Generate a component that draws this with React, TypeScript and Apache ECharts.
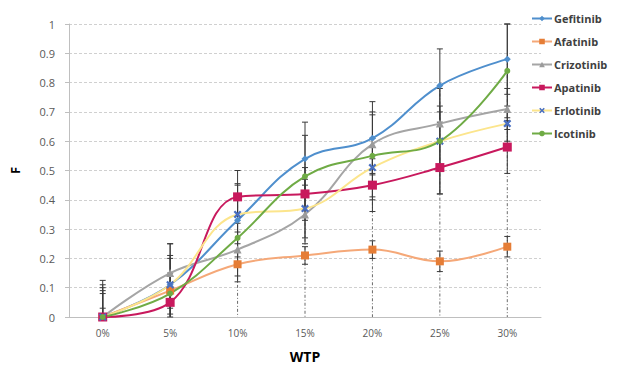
import React, { useEffect, useRef } from "react";
import * as echarts from "echarts";

const categories = ["0%", "5%", "10%", "15%", "20%", "25%", "30%"];
const yTicks = [0, 0.1, 0.2, 0.3, 0.4, 0.5, 0.6, 0.7, 0.8, 0.9, 1];

const gefitinib = [0, 0.11, 0.33, 0.54, 0.61, 0.79, 0.88];
const afatinib = [0, 0.09, 0.18, 0.21, 0.23, 0.19, 0.24];
const crizotinib = [0, 0.15, 0.23, 0.35, 0.59, 0.66, 0.71];
const apatinib = [0, 0.05, 0.41, 0.42, 0.45, 0.51, 0.58];
const erlotinib = [0, 0.11, 0.35, 0.37, 0.51, 0.6, 0.66];
const icotinib = [0, 0.08, 0.27, 0.48, 0.55, 0.6, 0.84];

const gefitinibErr = [0.09, 0.1, 0.125, 0.125, 0.125, 0.125, 0.12];
const afatinibErr = [0.03, 0.06, 0.04, 0.03, 0.03, 0.035, 0.035];
const crizotinibErr = [0.1, 0.1, 0.06, 0.1, 0.1, 0.06, 0.07];
const apatinibErr = [0.08, 0.05, 0.09, 0.09, 0.09, 0.09, 0.09];
const erlotinibErr = [0.11, 0.14, 0.1, 0.1, 0.1, 0.1, 0.06];
const icotinibErr = [0.125, 0.12, 0.15, 0.14, 0.15, 0.18, 0.16];

const X_SYMBOL =
  "path://M0,2L2,0L5,3L8,0L10,2L7,5L10,8L8,10L5,7L2,10L0,8L3,5Z";

const seriesDefs = [
  { name: "Gefitinib", data: gefitinib, err: gefitinibErr, line: "#4f8fcd", marker: "#4f8fcd", symbol: "diamond", size: 7 },
  { name: "Afatinib", data: afatinib, err: afatinibErr, line: "#f5a878", marker: "#e57d36", symbol: "rect", size: 8 },
  { name: "Crizotinib", data: crizotinib, err: crizotinibErr, line: "#a5a5a5", marker: "#9b9b9b", symbol: "triangle", size: 8 },
  { name: "Apatinib", data: apatinib, err: apatinibErr, line: "#c8195d", marker: "#c8195d", symbol: "rect", size: 9 },
  { name: "Erlotinib", data: erlotinib, err: erlotinibErr, line: "#fce58c", marker: "#4a6fc0", symbol: X_SYMBOL, size: 8 },
  { name: "Icotinib", data: icotinib, err: icotinibErr, line: "#6fab45", marker: "#6fab45", symbol: "circle", size: 6 },
];

export default function App() {
  const ref = useRef<HTMLDivElement>(null);
  useEffect(() => {
    if (!ref.current) return;
    const chart = echarts.init(ref.current, null, { renderer: "svg" });

    const errData: number[][] = [];
    seriesDefs.forEach((s) => {
      s.data.forEach((v, i) => {
        errData.push([i, Math.max(0, v - s.err[i]), Math.min(1, v + s.err[i]), v - s.err[i] < 0 ? 1 : 0]);
      });
    });
    const dropData = categories.map((_, i) => [i, Math.max(...seriesDefs.map((s) => s.data[i]))]);

    const lineSeries = seriesDefs.map((s) => ({
      type: "line",
      name: s.name,
      data: s.data,
      smooth: 0.4,
      symbol: s.symbol,
      symbolSize: s.size,
      showAllSymbol: true,
      z: 3,
      lineStyle: { color: s.line, width: 2 },
      itemStyle: { color: s.marker, borderWidth: 0 },
    }));

    chart.setOption({
      animation: false,
      textStyle: { fontFamily: "Open Sans" },
      grid: { left: 67, right: 92, top: 24, bottom: 45, containLabel: false },
      legend: {
        orient: "vertical",
        left: 526,
        top: 8,
        itemGap: 12,
        itemWidth: 20,
        itemHeight: 7,
        data: seriesDefs.map((s) => s.name),
        textStyle: { fontFamily: "Open Sans", fontWeight: "bold", fontSize: 11, color: "#404040", padding: [0, 0, 0, -3] },
      },
      xAxis: {
        type: "category",
        data: categories,
        boundaryGap: true,
        name: "WTP",
        nameLocation: "middle",
        nameGap: 32,
        nameTextStyle: { fontFamily: "Open Sans", fontWeight: "bold", fontSize: 14, color: "#000" },
        axisLine: { lineStyle: { color: "#bfbfbf" } },
        axisTick: { show: false },
        axisLabel: { color: "#595959", fontSize: 10, margin: 11 },
        splitLine: { show: false },
      },
      yAxis: {
        type: "value",
        min: 0,
        max: 1,
        interval: 0.1,
        name: "F",
        nameLocation: "middle",
        nameGap: 48,
        nameRotate: 90,
        nameTextStyle: { fontFamily: "Open Sans", fontWeight: "bold", fontSize: 13, color: "#000" },
        axisLine: { show: true, lineStyle: { color: "#bfbfbf" } },
        axisTick: { show: true, length: 4, lineStyle: { color: "#bfbfbf" } },
        axisLabel: {
          color: "#595959",
          fontSize: 11,
          margin: 14,
          formatter: (v: number) => {
            const t = yTicks.find((y) => Math.abs(y - v) < 1e-6);
            return t === undefined ? "" : String(t);
          },
        },
        splitLine: { show: true, lineStyle: { color: "#d0d0d0", type: [3, 2] } },
      },
      series: [
        {
          type: "custom",
          name: "drop",
          z: 1,
          silent: true,
          data: dropData,
          encode: { x: 0, y: 1 },
          renderItem: (params: any, api: any) => {
            const i = api.value(0);
            const top = api.coord([i, api.value(1)]);
            const bot = api.coord([i, 0]);
            return {
              type: "line",
              shape: { x1: top[0], y1: top[1], x2: bot[0], y2: bot[1] },
              style: { stroke: "#6a6a6a", lineWidth: 1, lineDash: [3, 2, 1, 2] },
            };
          },
        },
        {
          type: "custom",
          name: "err",
          z: 2,
          silent: true,
          data: errData,
          encode: { x: 0, y: [1, 2] },
          renderItem: (params: any, api: any) => {
            const i = api.value(0);
            const lo = api.coord([i, api.value(1)]);
            const hi = api.coord([i, api.value(2)]);
            const clipped = api.value(3) === 1;
            const w = 3;
            const children: any[] = [
              { type: "line", shape: { x1: hi[0], y1: hi[1], x2: lo[0], y2: lo[1] }, style: { stroke: "#3a3a3a", lineWidth: 1 } },
              { type: "line", shape: { x1: hi[0] - w, y1: hi[1], x2: hi[0] + w, y2: hi[1] }, style: { stroke: "#3a3a3a", lineWidth: 1 } },
            ];
            if (!clipped) {
              children.push({ type: "line", shape: { x1: lo[0] - w, y1: lo[1], x2: lo[0] + w, y2: lo[1] }, style: { stroke: "#3a3a3a", lineWidth: 1 } });
            }
            return { type: "group", children };
          },
        },
        ...lineSeries,
      ],
    });
    return () => chart.dispose();
  }, []);
  return (
    <div
      ref={ref}
      style={{ position: "fixed", left: 0, top: 0, width: 633, height: 368, background: "#fff" }}
    />
  );
}
